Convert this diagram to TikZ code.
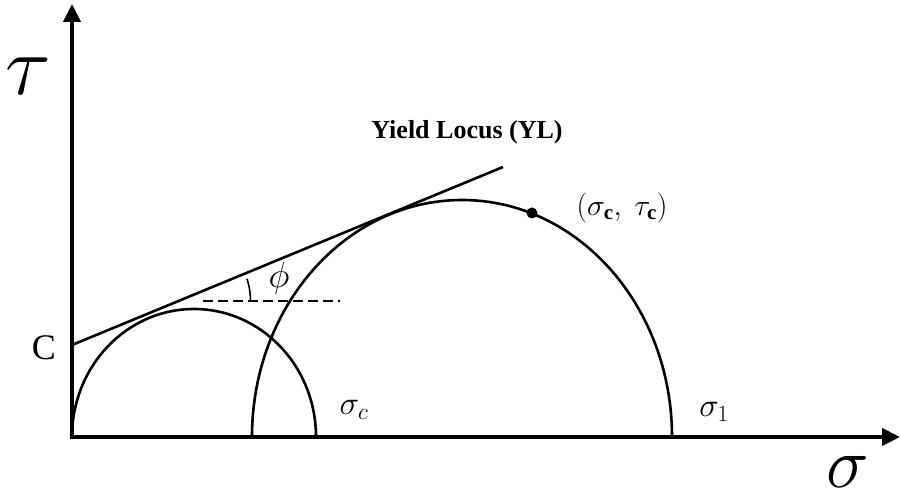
\RequirePackage{fix-cm}
\documentclass[tikz,border=0pt]{standalone}
\usepackage{fontspec}
\setmainfont{Liberation Serif}
\usetikzlibrary{arrows.meta}

\begin{document}
\begin{tikzpicture}[x=1pt,y=1pt,
  axis/.style={line width=4pt,{Triangle[length=18pt,width=17pt]}-{Triangle[length=18pt,width=17pt]}},
  curve/.style={line width=2.6pt}]
  \useasboundingbox (0,0) rectangle (900,500);
  % axes
  \coordinate (O) at (72,63);
  \coordinate (taxis) at (72,496);
  \coordinate (saxis) at (900,63);
  \draw[axis] (taxis) -- (O) -- (saxis);
  \node (tau) at (28,424) {\fontsize{85}{85}\selectfont$\tau$};
  \node[inner sep=0pt] (sigma) at (848,28) {\fontsize{72}{72}\selectfont$\sigma$};
  % Mohr circles
  \coordinate (inner) at (252,63);
  \draw[curve] (O) arc[start angle=180,end angle=0,x radius=122,y radius=128];
  \draw[curve] (inner) arc[start angle=180,end angle=0,x radius=210,y radius=237];
  \node (sc) at (354,90) {\fontsize{33}{33}\selectfont$\sigma_c$};
  \node (s1) at (714,88) {\fontsize{33}{33}\selectfont$\sigma_1$};
  % yield locus
  \coordinate (C) at (72,155);
  \coordinate (YLend) at (503,333);
  \draw[curve] (C) -- (YLend);
  \node (Clabel) at (44,152) {\fontsize{36}{36}\selectfont C};
  \node (YLlabel) at (467,368) {\fontsize{26}{26}\selectfont\bfseries Yield Locus (YL)};
  % friction angle
  \coordinate (vertex) at (178.5,199);
  \coordinate (dashL) at (203,199);
  \coordinate (dashR) at (340,199);
  \draw[curve,dash pattern=on 10pt off 5pt] (dashL) -- (dashR);
  \draw[line width=1.6pt] ([shift={(0:72)}]vertex) arc[start angle=0,end angle=18,radius=72];
  \node (phi) at (279,221) {\fontsize{36}{36}\selectfont$\phi$};
  % critical point
  \node[circle,fill=black,inner sep=0pt,minimum size=11pt] (crit) at (532,287) {};
  \node (critlabel) at (622,292) {\fontsize{30}{30}\selectfont$(\sigma_{\mathbf{c}},\ \tau_{\mathbf{c}})$};
\end{tikzpicture}
\end{document}
